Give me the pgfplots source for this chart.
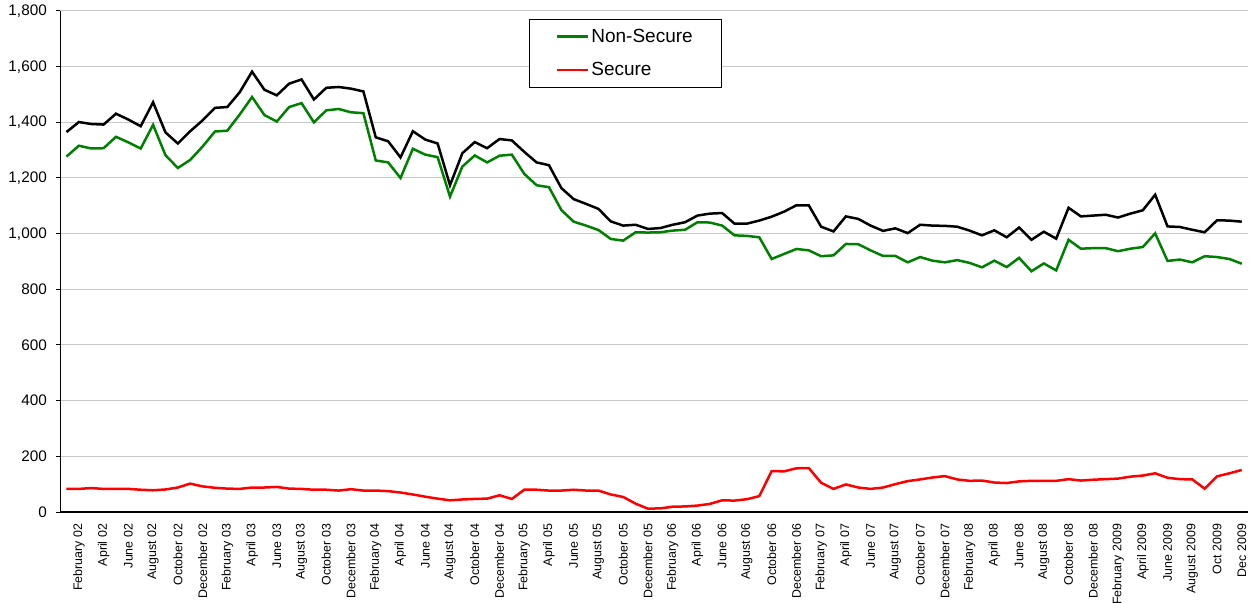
\documentclass[border=0pt]{standalone}
\usepackage{fontspec}
\setmainfont{Liberation Sans}
\usepackage{pgfplots}
\usepackage{pgfplotstable}
\pgfplotsset{compat=1.18}
\definecolor{mygreen}{RGB}{0,128,0}
\definecolor{myred}{RGB}{255,0,0}
\definecolor{mygrid}{RGB}{200,200,200}

\pgfplotstableread{
i total nonsec sec
0 1365 1277 83
1 1401 1316 83
2 1394 1306 86
3 1392 1307 83
4 1431 1348 83
5 1410 1328 83
6 1386 1306 80
7 1472 1391 78
8 1364 1282 81
9 1324 1236 88
10 1368 1265 102
11 1407 1313 92
12 1452 1367 87
13 1455 1370 84
14 1508 1428 83
15 1582 1491 88
16 1517 1426 88
17 1497 1403 90
18 1539 1455 84
19 1554 1469 83
20 1482 1400 80
21 1524 1443 80
22 1527 1448 77
23 1521 1436 82
24 1511 1433 77
25 1346 1263 77
26 1332 1256 75
27 1274 1200 70
28 1368 1305 63
29 1338 1284 55
30 1324 1275 48
31 1174 1133 42
32 1289 1241 45
33 1329 1281 47
34 1307 1256 48
35 1340 1280 60
36 1335 1284 47
37 1294 1215 80
38 1256 1174 80
39 1246 1167 77
40 1164 1085 77
41 1124 1043 80
42 1107 1029 77
43 1089 1013 77
44 1044 981 63
45 1029 975 54
46 1032 1005 30
47 1017 1004 12
48 1020 1005 13
49 1032 1011 19
50 1041 1014 20
51 1065 1041 23
52 1072 1040 29
53 1074 1029 42
54 1036 994 41
55 1036 992 46
56 1047 987 57
57 1061 909 147
58 1079 927 146
59 1102 945 157
60 1102 940 158
61 1025 919 105
62 1008 922 83
63 1062 963 99
64 1053 962 88
65 1029 940 83
66 1010 920 88
67 1019 920 100
68 1002 897 111
69 1032 916 117
70 1029 903 124
71 1028 897 129
72 1025 905 117
73 1011 895 112
74 994 879 113
75 1012 903 106
76 987 880 104
77 1022 913 110
78 978 865 112
79 1007 893 112
80 982 868 112
81 1093 978 118
82 1062 946 113
83 1065 948 116
84 1068 948 118
85 1058 937 120
86 1072 946 127
87 1084 952 131
88 1140 1001 139
89 1026 902 123
90 1024 907 118
91 1014 897 117
92 1005 919 84
93 1048 916 128
94 1047 909 139
95 1043 892 151
}\datatable

\begin{document}
\begin{tikzpicture}
\begin{axis}[
  at={(0,0)}, anchor=south west,
  scale only axis,
  width=1187.7bp, height=501bp,
  xmin=0, xmax=96, ymin=0, ymax=1800,
  axis x line*=bottom, axis y line*=left,
  axis line style={black, line width=1.2bp, -},
  tick align=outside,
  major tick length=4bp,
  minor tick length=5bp,
  tick style={black, line width=1bp},
  xtick={1.5,3.5,...,95.5},
  xtick style={draw=none},
  minor xtick={0,1,...,96},
  xticklabels={February 02, April 02, June 02, August 02, October 02, December 02,
    February 03, April 03, June 03, August 03, October 03, December 03,
    February 04, April 04, June 04, August 04, October 04, December 04,
    February 05, April 05, June 05, August 05, October 05, December 05,
    February 06, April 06, June 06, August 06, October 06, December 06,
    February 07, April 07, June 07, August 07, October 07, December 07,
    February 08, April 08, June 08, August 08, October 08, December 08,
    February 2009, April 2009, June 2009, August 2009, Oct 2009, Dec 2009},
  xticklabel style={rotate=90, anchor=east, font=\fontsize{12.4bp}{14bp}\selectfont, xshift=-4.5bp},
  ytick={0,200,...,1800},
  yticklabel style={font=\fontsize{15.3bp}{18bp}\selectfont, xshift=-6bp},
  /pgf/number format/.cd, 1000 sep={,}, assume math mode=true,
  /pgfplots/.cd,
  ymajorgrids=true,
  grid style={mygrid, line width=1bp},
  legend style={at={(0.3946,0.984)}, anchor=north west, draw=black, line width=0.8bp,
    fill=white, font=\fontsize{19bp}{22bp}\selectfont,
    inner xsep=26.5bp, inner ysep=7.5bp, row sep=15bp,
    nodes={inner sep=2bp}},
  legend cell align=left,
  legend image code/.code={\draw[#1, line width=2.5bp] (0bp,0bp) -- (31bp,0bp);},
]
\addplot[mygreen, line width=2.5bp] table[x expr=\thisrow{i}+0.5, y=nonsec] {\datatable};
\addlegendentry{Non-Secure}
\addplot[myred, line width=2.5bp] table[x expr=\thisrow{i}+0.5, y=sec] {\datatable};
\addlegendentry{Secure}
\addplot[black, line width=2.5bp, forget plot] table[x expr=\thisrow{i}+0.5, y=total] {\datatable};
\end{axis}
\pgfresetboundingbox
\path[use as bounding box] (-60.3bp,-91bp) rectangle (1190.7bp,512bp);
\end{tikzpicture}
\end{document}
